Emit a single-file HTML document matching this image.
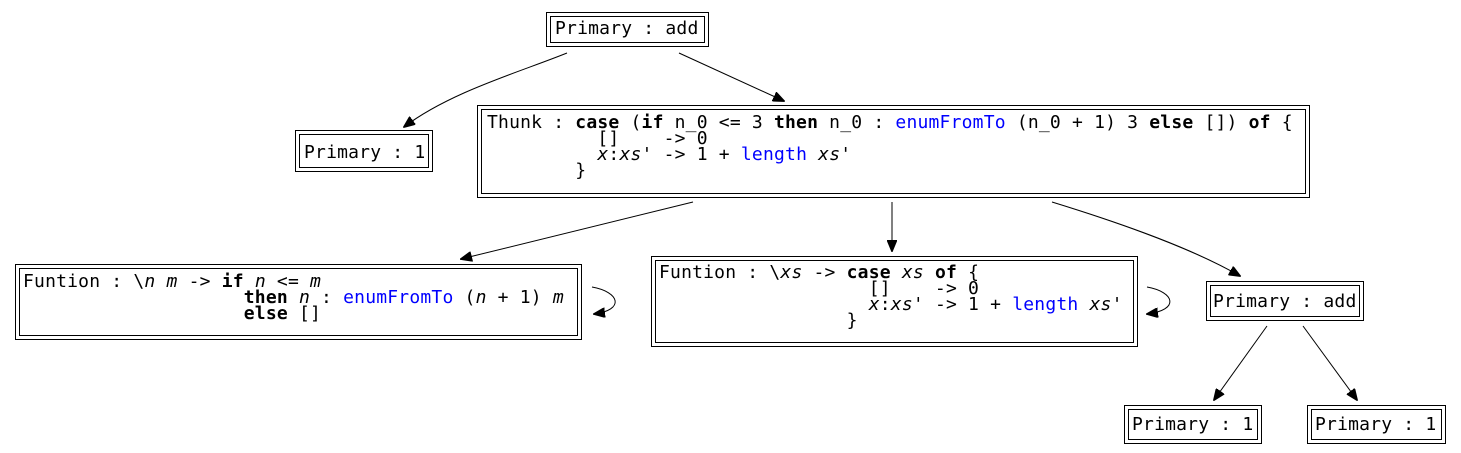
<!DOCTYPE html>
<html><head><meta charset="utf-8">
<style>
html,body{margin:0;padding:0;background:#fff;}
svg{display:block;}
text{font-family:"DejaVu Sans Mono","Liberation Mono",monospace;font-size:18px;letter-spacing:0.2px;fill:#000;white-space:pre;}
.b{font-weight:bold;}
.i{font-style:italic;}
.f{fill:#0000ff;}
rect{fill:none;stroke:#000;stroke-width:1;}
path{fill:none;stroke:#000;stroke-width:1;}
</style></head>
<body>
<svg width="1461" height="453" viewBox="0 0 1461 453" xmlns="http://www.w3.org/2000/svg">
<defs>
<marker id="a" markerWidth="12" markerHeight="10" refX="11" refY="5" orient="auto" markerUnits="userSpaceOnUse">
<path d="M0,0 L12,5 L0,10 Z" style="fill:#000;stroke:#000"/>
</marker>
</defs>

<rect x="546.5" y="12.5" width="162" height="34"/><rect x="550.5" y="16.5" width="154" height="26"/>
<text x="555" y="34" xml:space="preserve">Primary : add</text>

<rect x="295.5" y="130.5" width="137" height="41"/><rect x="299.5" y="134.5" width="129" height="33"/>
<text x="304" y="158" xml:space="preserve">Primary : 1</text>

<rect x="477.5" y="105.5" width="832" height="92"/><rect x="481.5" y="109.5" width="824" height="84"/>
<text x="487" y="128" xml:space="preserve">Thunk : <tspan class="b">case</tspan> (<tspan class="b">if</tspan> n_0 &lt;= 3 <tspan class="b">then</tspan> n_0 : <tspan class="f">enumFromTo</tspan> (n_0 + 1) 3 <tspan class="b">else</tspan> []) <tspan class="b">of</tspan> {</text>
<text x="487" y="144" xml:space="preserve">          []    -&gt; 0</text>
<text x="487" y="160" xml:space="preserve">          <tspan class="i">x</tspan>:<tspan class="i">xs</tspan>' -&gt; 1 + <tspan class="f">length</tspan> <tspan class="i">xs</tspan>'</text>
<text x="487" y="176" xml:space="preserve">        }</text>

<rect x="15.5" y="264.5" width="566" height="75"/><rect x="19.5" y="268.5" width="558" height="67"/>
<text x="23" y="287" xml:space="preserve">Funtion : \<tspan class="i">n</tspan> <tspan class="i">m</tspan> -&gt; <tspan class="b">if</tspan> <tspan class="i">n</tspan> &lt;= <tspan class="i">m</tspan></text>
<text x="23" y="303" xml:space="preserve">                    <tspan class="b">then</tspan> <tspan class="i">n</tspan> : <tspan class="f">enumFromTo</tspan> (<tspan class="i">n</tspan> + 1) <tspan class="i">m</tspan></text>
<text x="23" y="319" xml:space="preserve">                    <tspan class="b">else</tspan> []</text>

<rect x="651.5" y="256.5" width="486" height="90"/><rect x="655.5" y="260.5" width="478" height="82"/>
<text x="659" y="278" xml:space="preserve">Funtion : \<tspan class="i">xs</tspan> -&gt; <tspan class="b">case</tspan> <tspan class="i">xs</tspan> <tspan class="b">of</tspan> {</text>
<text x="659" y="294" xml:space="preserve">                   []    -&gt; 0</text>
<text x="659" y="310" xml:space="preserve">                   <tspan class="i">x</tspan>:<tspan class="i">xs</tspan>' -&gt; 1 + <tspan class="f">length</tspan> <tspan class="i">xs</tspan>'</text>
<text x="659" y="326" xml:space="preserve">                 }</text>

<rect x="1206.5" y="281.5" width="157" height="39"/><rect x="1210.5" y="285.5" width="149" height="31"/>
<text x="1213" y="307" xml:space="preserve">Primary : add</text>

<rect x="1124.5" y="405.5" width="137" height="38"/><rect x="1128.5" y="409.5" width="129" height="30"/>
<text x="1132" y="430" xml:space="preserve">Primary : 1</text>

<rect x="1307.5" y="405.5" width="138" height="38"/><rect x="1311.5" y="409.5" width="130" height="30"/>
<text x="1315" y="430" xml:space="preserve">Primary : 1</text>

<path d="M567,53 C520,72 450,92 404,127" marker-end="url(#a)"/>
<path d="M679,53 L784,101" marker-end="url(#a)"/>
<path d="M693,202 L461,259" marker-end="url(#a)"/>
<path d="M892,202 L892,251" marker-end="url(#a)"/>
<path d="M1052,202 C1130,226 1195,250 1240,276" marker-end="url(#a)"/>
<path d="M592,287 C620,292 625,310 594,314" marker-end="url(#a)"/>
<path d="M1147,287 C1175,292 1180,310 1147,314" marker-end="url(#a)"/>
<path d="M1267,326 L1214,400" marker-end="url(#a)"/>
<path d="M1303,326 L1357,400" marker-end="url(#a)"/>
</svg>
</body></html>
